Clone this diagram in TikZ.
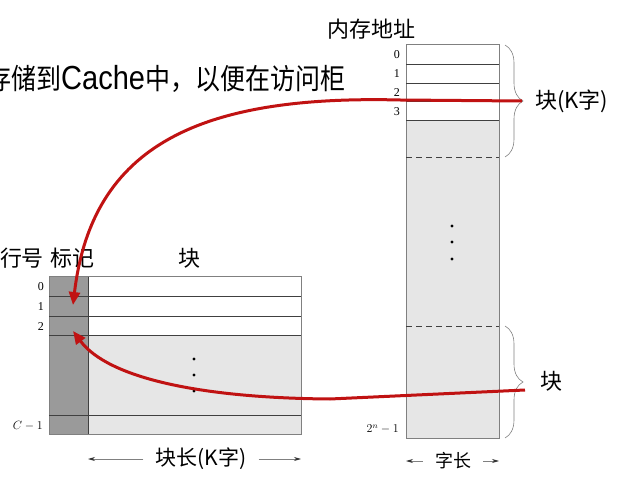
\documentclass[tikz,border=0pt]{standalone}
\usepackage{fontspec}
\setmainfont{Liberation Serif}
\newfontfamily\cjk{Noto Sans CJK SC}
\newfontfamily\arial{Liberation Sans}
\usetikzlibrary{arrows.meta, decorations.pathreplacing}

\definecolor{tagGray}{HTML}{9A9A9A}
\definecolor{blockGray}{HTML}{E6E6E6}
\definecolor{frameGray}{HTML}{808080}
\definecolor{mapRed}{HTML}{C01212}

\tikzset{
  cjklabel/.style={font=\cjk\fontsize{22}{26}\selectfont, inner sep=0pt},
  rowlabel/.style={font=\fontsize{12}{14}\selectfont, inner sep=0pt, anchor=east},
  rowline/.style={draw=black!75, line width=0.8pt},
  frameline/.style={draw=frameGray, line width=1pt},
  bracket/.style={draw=frameGray, line width=0.6pt, decorate, decoration={brace, amplitude=18pt}},
  dimarrow/.style={draw=frameGray, line width=0.7pt, -{Stealth[length=7pt, width=4pt, black!80]}},
  maparrow/.style={draw=mapRed, line width=3pt, -{Triangle[length=13pt, width=11pt]}}
}

\begin{document}
\begin{tikzpicture}[x=1pt, y=-1pt]
    \useasboundingbox (0,0) rectangle (619,489);
    \def\ML{406} \def\MR{499}
    \def\CL{49} \def\CT{88} \def\CR{301}

    % Caption line, cut at both ends
    \begin{scope}
        \clip (0,55) rectangle (352,105);
        \node[anchor=west, font=\cjk\fontsize{25}{28}\selectfont, inner sep=0pt] (note) at (-14,79)
            {\scalebox{1}[1.15]{存储到{\arial\fontsize{29}{29}\selectfont Cache}中，以便在访问柜}};
    \end{scope}

    % Main memory column
    \fill[blockGray] (\ML,120) rectangle (\MR,438);
    \draw[frameline] (\ML,45) rectangle (\MR,438);
    \foreach \y in {64,83,101,120}
        \draw[rowline] (\ML,\y) -- (\MR,\y);
    \draw[rowline, dash pattern=on 6pt off 4pt] (\ML,157) -- (\MR,157);
    \draw[rowline, dash pattern=on 6pt off 4pt] (\ML,326) -- (\MR,326);
    \foreach \i/\y in {0/55,1/74,2/93,3/112}
        \node[rowlabel] (mem\i) at (400,\y) {\i};
    \node[rowlabel] (memLast) at (399,429) {$2^n-1$};
    \foreach \y in {226,242,259}
        \fill (452,\y) circle (1.7);
    \node[cjklabel] (memHdr) at (371,29) {内存地址};

    % Braces for the blocks in memory
    \draw[bracket] (505,45) -- (505,157);
    \draw[bracket] (505,326) -- (505,438);
    \node[cjklabel, anchor=west] (blkK) at (535,101) {块(K字)};
    \node[cjklabel, anchor=west] (blk) at (540,381) {块};

    % Word length
    \node[cjklabel, font=\cjk\fontsize{18}{22}\selectfont] (wordLen) at (453,461) {字长};
    \coordinate (wordL) at (\ML,461);
    \coordinate (wordR) at (\MR,461);
    \draw[dimarrow] ([xshift=-12pt]wordLen.west) -- (wordL);
    \draw[dimarrow] ([xshift=12pt]wordLen.east) -- (wordR);

    % Cache lines
    \fill[blockGray] (\CT,335) rectangle (\CR,434);
    \fill[tagGray] (\CL,277) rectangle (\CT,434);
    \draw[frameline] (\CL,277) rectangle (\CR,434);
    \draw[rowline] (\CT,277) -- (\CT,434);
    \foreach \y in {296,316,335,415}
        \draw[rowline] (\CL,\y) -- (\CR,\y);
    \foreach \i/\y in {0/287,1/307,2/327}
        \node[rowlabel] (line\i) at (44,\y) {\i};
    \node[rowlabel] (lineLast) at (43,426) {$C-1$};
    \foreach \y in {359,375,391}
        \fill (194,\y) circle (1.7);

    % Cache headers
    \node[cjklabel] (lineHdr) at (22,258) {行号};
    \node[cjklabel] (tagHdr) at (72,258) {标记};
    \node[cjklabel] (dataHdr) at (189,258) {块};

    % Block length
    \node[cjklabel, font=\cjk\fontsize{21}{25}\selectfont] (blkLen) at (201,459) {块长(K字)};
    \coordinate (lenL) at (\CT,459);
    \coordinate (lenR) at (\CR,459);
    \draw[dimarrow] ([xshift=-12pt]blkLen.west) -- (lenL);
    \draw[dimarrow] ([xshift=12pt]blkLen.east) -- (lenR);

    % Mapping arrows from memory blocks to cache tags
    \coordinate (srcK) at (522,101);
    \coordinate (tag1) at (73,305);
    \draw[maparrow] (srcK) -- (400,100) .. controls (200,95) and (92,145) .. (tag1);
    \coordinate (srcB) at (525,390);
    \coordinate (tag2) at (73,331);
    \draw[maparrow] (srcB) -- (330,399) .. controls (200,398) and (108,378) .. (tag2);
\end{tikzpicture}
\end{document}
